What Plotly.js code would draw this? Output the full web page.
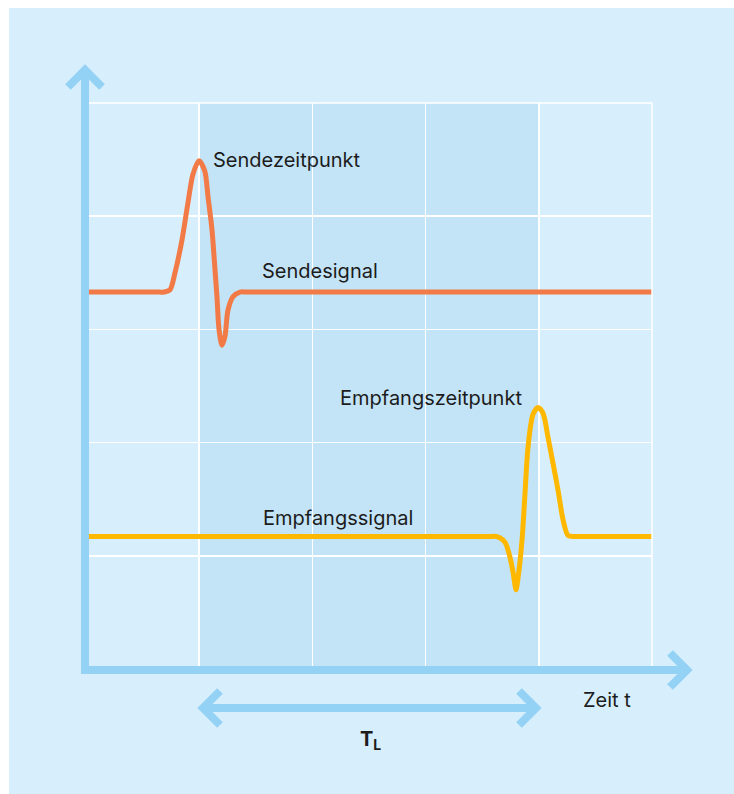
<!DOCTYPE html>
<html>
<head>
<meta charset="utf-8">
<script src="https://cdn.plot.ly/plotly-3.0.1.min.js"></script>
<style>html,body{margin:0;padding:0;background:#fff;}#chart{width:734px;height:794px;}</style>
</head>
<body>
<div id="chart"></div>
<script>
// Time axis in grid units (0..5), amplitude in grid units (0..5)
var sendX = [0, 0.40, 0.62, 0.689, 0.742, 0.786, 0.848, 0.901, 0.945, 0.998, 1.049, 1.078, 1.113, 1.140, 1.157, 1.175, 1.201, 1.228, 1.254, 1.299, 1.360, 1.42, 1.60, 3.0, 5];
var sendY = [3.33, 3.33, 3.33, 3.33, 3.35, 3.50, 3.79, 4.12, 4.37, 4.49, 4.40, 4.17, 3.88, 3.52, 3.29, 3.00, 2.86, 2.94, 3.17, 3.29, 3.33, 3.33, 3.33, 3.33, 3.33];
var empfX = [0, 2.0, 3.40, 3.56, 3.631, 3.701, 3.737, 3.772, 3.799, 3.816, 3.852, 3.878, 3.905, 3.949, 3.993, 4.037, 4.081, 4.125, 4.170, 4.214, 4.258, 4.320, 4.38, 4.60, 5];
var empfY = [1.17, 1.17, 1.17, 1.17, 1.17, 1.12, 1.02, 0.86, 0.70, 0.80, 1.14, 1.55, 1.96, 2.25, 2.31, 2.26, 2.05, 1.82, 1.58, 1.32, 1.18, 1.17, 1.17, 1.17, 1.17];
var bandStart = 1, bandEnd = 4;

var labels = ["Sendezeitpunkt", "Sendesignal", "Empfangszeitpunkt", "Empfangssignal", "Zeit t", "<b>T</b><sub><b>L</b></sub>"];

var L = 86, R = 652, T = 103, B = 669, W = 734, H = 794;
function px(x){ return (x - L) / (R - L); }
function py(y){ return (B - y) / (B - T); }

var axisCol = "#93d2f5";
var panelCol = "#d7eefc";
var bandCol = "#c3e3f7";
var textCol = "#1c1c1c";

function pathP(pts){
  return pts.map(function(p,i){ return (i ? "L" : "M") + px(p[0]).toFixed(5) + "," + py(p[1]).toFixed(5); }).join(" ");
}

var traces = [
  {x: sendX, y: sendY, type: "scatter", mode: "lines", line: {color: "#f27a46", width: 5, shape: "spline", smoothing: 0.8}, hoverinfo: "skip", name: "Sendesignal"},
  {x: empfX, y: empfY, type: "scatter", mode: "lines", line: {color: "#ffb800", width: 5, shape: "spline", smoothing: 0.8}, hoverinfo: "skip", name: "Empfangssignal"}
];

var aline = {color: axisCol, width: 8};
var gline = {color: "#ffffff", width: 1.5};
var shapes = [
  {type: "rect", xref: "paper", yref: "paper", x0: px(0), x1: px(9), y0: py(0), y1: py(H), fillcolor: "#ffffff", line: {width: 0}, layer: "above"},
  {type: "rect", xref: "paper", yref: "paper", x0: px(0), x1: px(W), y0: py(0), y1: py(8), fillcolor: "#ffffff", line: {width: 0}, layer: "above"},
  {type: "rect", xref: "x", yref: "y", x0: bandStart, x1: bandEnd, y0: 0, y1: 5, fillcolor: bandCol, line: {width: 0}, layer: "below"},
  // top and right grid border
  {type: "line", xref: "paper", yref: "paper", x0: px(89), x1: px(652.5), y0: py(103), y1: py(103), line: gline, layer: "above"},
  {type: "line", xref: "paper", yref: "paper", x0: px(652), x1: px(652), y0: py(103), y1: py(669), line: gline, layer: "above"},
  // y axis with arrow
  {type: "path", xref: "paper", yref: "paper", path: pathP([[85, 674], [85, 70]]), line: aline},
  {type: "path", xref: "paper", yref: "paper", path: pathP([[68, 87], [85, 70], [102, 87]]), line: aline},
  // x axis with arrow
  {type: "path", xref: "paper", yref: "paper", path: pathP([[81, 670], [687, 670]]), line: aline},
  {type: "path", xref: "paper", yref: "paper", path: pathP([[670, 653], [687, 670], [670, 687]]), line: aline},
  // T_L double arrow
  {type: "path", xref: "paper", yref: "paper", path: pathP([[203, 708], [536, 708]]), line: aline},
  {type: "path", xref: "paper", yref: "paper", path: pathP([[220, 691], [203, 708], [220, 725]]), line: aline},
  {type: "path", xref: "paper", yref: "paper", path: pathP([[519, 691], [536, 708], [519, 725]]), line: aline}
];

function ann(text, x, y, size){
  return {text: text, xref: "paper", yref: "paper", x: px(x), y: py(y), xanchor: "left", yanchor: "middle", showarrow: false, font: {family: "Inter, 'Noto Sans', sans-serif", size: size || 20, color: textCol}};
}
var annotations = [
  ann(labels[0], 211, 160),
  ann(labels[1], 260, 271),
  ann(labels[2], 338, 398),
  ann(labels[3], 261, 518),
  ann(labels[4], 581, 700),
  ann(labels[5], 358, 740, 20)
];

var layout = {
  width: W, height: H,
  margin: {l: L, r: W - R, t: T, b: H - B, pad: 0},
  paper_bgcolor: panelCol,
  plot_bgcolor: panelCol,
  showlegend: false,
  xaxis: {range: [0, 5], dtick: 1, tick0: 0, showgrid: true, gridcolor: "#ffffff", gridwidth: 1.5, zeroline: false, showticklabels: false, ticks: "", showline: false, fixedrange: true},
  yaxis: {range: [0, 5], dtick: 1, tick0: 0, showgrid: true, gridcolor: "#ffffff", gridwidth: 1.5, zeroline: false, showticklabels: false, ticks: "", showline: false, fixedrange: true},
  shapes: shapes,
  annotations: annotations
};

Plotly.newPlot("chart", traces, layout, {displayModeBar: false, staticPlot: true});
</script>
</body>
</html>
